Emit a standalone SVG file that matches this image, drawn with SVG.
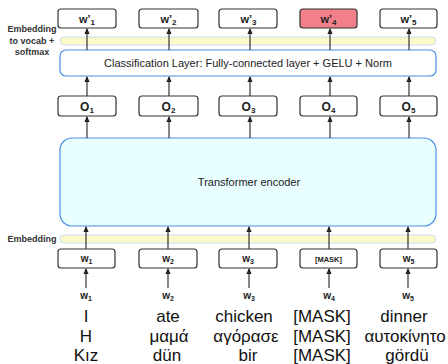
<svg xmlns="http://www.w3.org/2000/svg" width="448" height="364" viewBox="0 0 448 364">
  <style>
    .box { fill: #ffffff; stroke: #333333; stroke-width: 1.2; }
    .mask { fill: #f2808a; }
    .bar { fill: #fcf8c8; stroke: #c4e2f2; stroke-width: 1; }
    .cls { fill: #ffffff; stroke: #4a8fe2; stroke-width: 1.2; }
    .enc { fill: #e9feff; stroke: #4a8fe2; stroke-width: 1.2; }
    .lbl { font-family: "Liberation Sans", Arial, sans-serif; font-weight: bold; fill: #222222; text-anchor: middle; }
    .side { font-family: "Liberation Sans", Arial, sans-serif; font-weight: bold; font-size: 9px; fill: #333333; text-anchor: middle; }
    .mid { font-family: "Liberation Sans", Arial, sans-serif; font-size: 11px; fill: #222222; text-anchor: middle; }
    .word { font-family: "Liberation Sans", Arial, sans-serif; font-size: 17px; fill: #111111; text-anchor: middle; }
    .arrow { stroke: #222222; stroke-width: 1.1; fill: none; marker-end: url(#head); }
  </style>
  <defs>
    <marker id="head" viewBox="0 0 6 6" refX="5" refY="3" markerWidth="6" markerHeight="6" markerUnits="userSpaceOnUse" orient="auto">
      <path d="M0,0.4 L6,3 L0,5.6 Z" fill="#222222"/>
    </marker>
  </defs>

  <!-- side captions -->
  <g id="caption-vocab">
    <text class="side" x="32" y="32">Embedding</text>
    <text class="side" x="32" y="43.5">to vocab +</text>
    <text class="side" x="32" y="55">softmax</text>
  </g>
  <g id="caption-embedding">
    <text class="side" x="32" y="242">Embedding</text>
  </g>

  <!-- layers -->
  <g id="vocab-bar"><rect class="bar" x="60" y="37" width="376" height="8" rx="4"/></g>
  <g id="classification">
    <rect class="cls" x="60" y="50" width="376" height="26" rx="6"/>
    <text class="mid" x="248" y="67">Classification Layer: Fully-connected layer + GELU + Norm</text>
  </g>
  <g id="encoder">
    <rect class="enc" x="60" y="138" width="376" height="88" rx="12"/>
    <text class="mid" x="249" y="186">Transformer encoder</text>
  </g>
  <g id="embedding-bar"><rect class="bar" x="60" y="235" width="376" height="8" rx="4"/></g>

  <!-- connectors -->
  <g id="connectors">
    <line class="arrow" x1="87" y1="50" x2="87" y2="29"/>
    <line class="arrow" x1="169" y1="50" x2="169" y2="29"/>
    <line class="arrow" x1="250" y1="50" x2="250" y2="29"/>
    <line class="arrow" x1="330" y1="50" x2="330" y2="29"/>
    <line class="arrow" x1="409" y1="50" x2="409" y2="29"/>

    <line class="arrow" x1="87" y1="96" x2="87" y2="77"/>
    <line class="arrow" x1="169" y1="96" x2="169" y2="77"/>
    <line class="arrow" x1="250" y1="96" x2="250" y2="77"/>
    <line class="arrow" x1="330" y1="96" x2="330" y2="77"/>
    <line class="arrow" x1="409" y1="96" x2="409" y2="77"/>

    <line class="arrow" x1="87" y1="138" x2="87" y2="117"/>
    <line class="arrow" x1="169" y1="138" x2="169" y2="117"/>
    <line class="arrow" x1="250" y1="138" x2="250" y2="117"/>
    <line class="arrow" x1="330" y1="138" x2="330" y2="117"/>
    <line class="arrow" x1="409" y1="138" x2="409" y2="117"/>

    <line class="arrow" x1="86" y1="249" x2="86" y2="227"/>
    <line class="arrow" x1="168" y1="249" x2="168" y2="227"/>
    <line class="arrow" x1="249" y1="249" x2="249" y2="227"/>
    <line class="arrow" x1="329" y1="249" x2="329" y2="227"/>
    <line class="arrow" x1="408" y1="249" x2="408" y2="227"/>

    <line class="arrow" x1="86" y1="288" x2="86" y2="269"/>
    <line class="arrow" x1="168" y1="288" x2="168" y2="269"/>
    <line class="arrow" x1="249" y1="288" x2="249" y2="269"/>
    <line class="arrow" x1="329" y1="288" x2="329" y2="269"/>
    <line class="arrow" x1="408" y1="288" x2="408" y2="269"/>
  </g>

  <!-- predicted tokens -->
  <g id="out-1"><rect class="box" x="58" y="9" width="58" height="19" rx="3"/><text class="lbl" x="87" y="23" font-size="11">w’<tspan font-size="8" dy="2">1</tspan></text></g>
  <g id="out-2"><rect class="box" x="139" y="9" width="59" height="19" rx="3"/><text class="lbl" x="168.5" y="23" font-size="11">w’<tspan font-size="8" dy="2">2</tspan></text></g>
  <g id="out-3"><rect class="box" x="219" y="9" width="58" height="19" rx="3"/><text class="lbl" x="248.5" y="23" font-size="11">w’<tspan font-size="8" dy="2">3</tspan></text></g>
  <g id="out-4"><rect class="box mask" x="300" y="9" width="57" height="19" rx="3"/><text class="lbl" x="328.5" y="23" font-size="11">w’<tspan font-size="8" dy="2">4</tspan></text></g>
  <g id="out-5"><rect class="box" x="380" y="9" width="57" height="19" rx="3"/><text class="lbl" x="408.5" y="23" font-size="11">w’<tspan font-size="8" dy="2">5</tspan></text></g>

  <!-- encoder outputs -->
  <g id="o-1"><rect class="box" x="58" y="96" width="58" height="20" rx="3"/><text class="lbl" x="87" y="110.5" font-size="12">O<tspan font-size="8" dy="2">1</tspan></text></g>
  <g id="o-2"><rect class="box" x="139" y="96" width="59" height="20" rx="3"/><text class="lbl" x="168.5" y="110.5" font-size="12">O<tspan font-size="8" dy="2">2</tspan></text></g>
  <g id="o-3"><rect class="box" x="219" y="96" width="58" height="20" rx="3"/><text class="lbl" x="248.5" y="110.5" font-size="12">O<tspan font-size="8" dy="2">3</tspan></text></g>
  <g id="o-4"><rect class="box" x="300" y="96" width="57" height="20" rx="3"/><text class="lbl" x="328.5" y="110.5" font-size="12">O<tspan font-size="8" dy="2">4</tspan></text></g>
  <g id="o-5"><rect class="box" x="380" y="96" width="57" height="20" rx="3"/><text class="lbl" x="408.5" y="110.5" font-size="12">O<tspan font-size="8" dy="2">5</tspan></text></g>

  <!-- input tokens -->
  <g id="in-1"><rect class="box" x="58" y="249" width="57" height="19" rx="3"/><text class="lbl" x="86.5" y="262" font-size="10">w<tspan font-size="7" dy="1.5">1</tspan></text></g>
  <g id="in-2"><rect class="box" x="139" y="249" width="58" height="19" rx="3"/><text class="lbl" x="168" y="262" font-size="10">w<tspan font-size="7" dy="1.5">2</tspan></text></g>
  <g id="in-3"><rect class="box" x="219" y="249" width="58" height="19" rx="3"/><text class="lbl" x="248" y="262" font-size="10">w<tspan font-size="7" dy="1.5">3</tspan></text></g>
  <g id="in-4"><rect class="box" x="300" y="249" width="57" height="19" rx="3"/><text class="lbl" x="328.5" y="261.5" font-size="7.5">[MASK]</text></g>
  <g id="in-5"><rect class="box" x="380" y="249" width="57" height="19" rx="3"/><text class="lbl" x="408.5" y="262" font-size="10">w<tspan font-size="7" dy="1.5">5</tspan></text></g>

  <!-- token symbols -->
  <g id="sym-1"><text class="lbl" x="86" y="299" font-size="10">w<tspan font-size="7" dy="1.5">1</tspan></text></g>
  <g id="sym-2"><text class="lbl" x="168" y="299" font-size="10">w<tspan font-size="7" dy="1.5">2</tspan></text></g>
  <g id="sym-3"><text class="lbl" x="249" y="299" font-size="10">w<tspan font-size="7" dy="1.5">3</tspan></text></g>
  <g id="sym-4"><text class="lbl" x="329" y="299" font-size="10">w<tspan font-size="7" dy="1.5">4</tspan></text></g>
  <g id="sym-5"><text class="lbl" x="408" y="299" font-size="10">w<tspan font-size="7" dy="1.5">5</tspan></text></g>

  <!-- example sentences: English, Greek, Turkish -->
  <g id="sentences">
    <text class="word" x="86" y="322">I</text>
    <text class="word" x="168" y="322">ate</text>
    <text class="word" x="244" y="322">chicken</text>
    <text class="word" x="322" y="322">[MASK]</text>
    <text class="word" x="404" y="322">dinner</text>

    <text class="word" x="86" y="341.5">H</text>
    <text class="word" x="169" y="341.5">μαμά</text>
    <text class="word" x="246" y="341.5">αγόρασε</text>
    <text class="word" x="322" y="341.5">[MASK]</text>
    <text class="word" x="405" y="341.5">αυτοκίνητο</text>

    <text class="word" x="86" y="361">Kız</text>
    <text class="word" x="167" y="361">dün</text>
    <text class="word" x="248" y="361">bir</text>
    <text class="word" x="322" y="361">[MASK]</text>
    <text class="word" x="407" y="361">gördü</text>
  </g>
</svg>
